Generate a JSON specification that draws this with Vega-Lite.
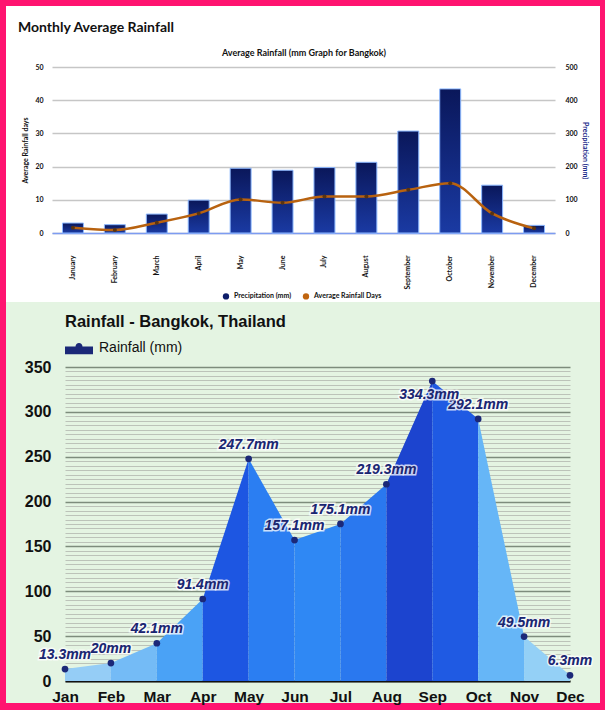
{
  "$schema": "https://vega.github.io/schema/vega-lite/v6.json",
  "background": "#ff1470",
  "padding": {"left": 6, "top": 6, "right": 5, "bottom": 7},
  "spacing": 0,
  "resolve": {"scale": {"color": "independent", "fill": "independent"}, "legend": {"color": "independent", "fill": "independent"}},
  "datasets": {
    "monthly": [
      {"month": "January", "precip": 30, "days": 1.6},
      {"month": "February", "precip": 25, "days": 0.9},
      {"month": "March", "precip": 57, "days": 3.1},
      {"month": "April", "precip": 99, "days": 5.9},
      {"month": "May", "precip": 195, "days": 10.1},
      {"month": "June", "precip": 189, "days": 9.1},
      {"month": "July", "precip": 197, "days": 11},
      {"month": "August", "precip": 213, "days": 11},
      {"month": "September", "precip": 307, "days": 13},
      {"month": "October", "precip": 434, "days": 15},
      {"month": "November", "precip": 144, "days": 5.9},
      {"month": "December", "precip": 23, "days": 1.4}
    ],
    "rain": [
      {"month": "Jan", "mm": 13.3, "label": "13.3mm"},
      {"month": "Feb", "mm": 20, "label": "20mm"},
      {"month": "Mar", "mm": 42.1, "label": "42.1mm"},
      {"month": "Apr", "mm": 91.4, "label": "91.4mm"},
      {"month": "May", "mm": 247.7, "label": "247.7mm"},
      {"month": "Jun", "mm": 157.1, "label": "157.1mm"},
      {"month": "Jul", "mm": 175.1, "label": "175.1mm"},
      {"month": "Aug", "mm": 219.3, "label": "219.3mm"},
      {"month": "Sep", "mm": 334.3, "label": "334.3mm"},
      {"month": "Oct", "mm": 292.1, "label": "292.1mm"},
      {"month": "Nov", "mm": 49.5, "label": "49.5mm"},
      {"month": "Dec", "mm": 6.3, "label": "6.3mm"}
    ],
    "segments": [
      {"seg": "Jan-Feb", "month": "Jan", "mm": 13.3},
      {"seg": "Jan-Feb", "month": "Feb", "mm": 20},
      {"seg": "Feb-Mar", "month": "Feb", "mm": 20},
      {"seg": "Feb-Mar", "month": "Mar", "mm": 42.1},
      {"seg": "Mar-Apr", "month": "Mar", "mm": 42.1},
      {"seg": "Mar-Apr", "month": "Apr", "mm": 91.4},
      {"seg": "Apr-May", "month": "Apr", "mm": 91.4},
      {"seg": "Apr-May", "month": "May", "mm": 247.7},
      {"seg": "May-Jun", "month": "May", "mm": 247.7},
      {"seg": "May-Jun", "month": "Jun", "mm": 157.1},
      {"seg": "Jun-Jul", "month": "Jun", "mm": 157.1},
      {"seg": "Jun-Jul", "month": "Jul", "mm": 175.1},
      {"seg": "Jul-Aug", "month": "Jul", "mm": 175.1},
      {"seg": "Jul-Aug", "month": "Aug", "mm": 219.3},
      {"seg": "Aug-Sep", "month": "Aug", "mm": 219.3},
      {"seg": "Aug-Sep", "month": "Sep", "mm": 334.3},
      {"seg": "Sep-Oct", "month": "Sep", "mm": 334.3},
      {"seg": "Sep-Oct", "month": "Oct", "mm": 292.1},
      {"seg": "Oct-Nov", "month": "Oct", "mm": 292.1},
      {"seg": "Oct-Nov", "month": "Nov", "mm": 49.5},
      {"seg": "Nov-Dec", "month": "Nov", "mm": 49.5},
      {"seg": "Nov-Dec", "month": "Dec", "mm": 6.3}
    ]
  },
  "vconcat": [
    {
      "width": 594,
      "height": 296,
      "view": {"fill": "#ffffff", "stroke": null},
      "data": {"name": "monthly"},
      "title": {"text": "Monthly Average Rainfall", "anchor": "start", "frame": "group", "font": "Lato", "fontSize": 14, "fontWeight": "bold", "color": "#111111", "offset": -29, "dx": 12},
      "encoding": {
        "x": {
          "field": "month", "type": "nominal", "sort": null,
          "scale": {"range": [46, 549], "paddingInner": 0.5, "paddingOuter": 0.25},
          "axis": {"orient": "bottom", "offset": -69, "labelAngle": 270, "labelPadding": 22, "labelFont": "Lato", "labelFontSize": 7, "labelFontWeight": "bold", "labelColor": "#111111", "ticks": false, "domainColor": "#7d9cf2", "domainWidth": 1.5, "grid": false, "title": "Average Rainfall (mm Graph for Bangkok)", "titleFont": "Lato", "titleFontSize": 9, "titleFontWeight": "bold", "titleColor": "#111111", "titleY": -181, "titleBaseline": "middle"}
        }
      },
      "layer": [
        {
          "mark": {"type": "bar", "fill": {"gradient": "linear", "x1": 0, "y1": 0, "x2": 0, "y2": 1, "stops": [{"offset": 0, "color": "#0a175a"}, {"offset": 1, "color": "#1a3aa3"}]}, "stroke": "#8cb8ff", "strokeWidth": 1},
          "encoding": {
            "y": {"field": "precip", "type": "quantitative", "scale": {"domain": [0, 500], "range": [227, 61]},
              "axis": {"orient": "right", "offset": -45, "values": [0, 100, 200, 300, 400, 500], "grid": false, "domain": false, "ticks": false, "labelPadding": 10, "labelFont": "Lato", "labelFontSize": 7, "labelFontWeight": "bold", "labelColor": "#111111", "title": "Precipitation (mm)", "titleFont": "Lato", "titleFontSize": 7, "titleFontWeight": "bold", "titleColor": "#1a2a8a", "titlePadding": 4}}
          }
        },
        {
          "layer": [
            {
              "mark": {"type": "line", "interpolate": "monotone", "color": "#b8620f", "strokeWidth": 2.5, "point": {"filled": true, "fill": "#5a3410", "size": 16}},
              "encoding": {
                "y": {"field": "days", "type": "quantitative", "scale": {"domain": [0, 50], "range": [227, 61]},
                  "axis": {"orient": "left", "offset": -46, "values": [0, 10, 20, 30, 40, 50], "grid": true, "gridColor": "#c6c6c6", "gridWidth": 1.5, "domain": false, "ticks": false, "labelPadding": 9, "labelFont": "Lato", "labelFontSize": 7, "labelFontWeight": "bold", "labelColor": "#111111", "title": "Average Rainfall days", "titleFont": "Lato", "titleFontSize": 7, "titleFontWeight": "bold", "titleColor": "#111111", "titlePadding": 6}}
              }
            },
            {
              "mark": {"type": "point", "filled": true, "opacity": 0},
              "encoding": {
                "color": {"datum": "Precipitation (mm)", "type": "nominal",
                  "scale": {"domain": ["Precipitation (mm)", "Average Rainfall Days"], "range": ["#0e1e6a", "#c0650f"]},
                  "legend": {"orient": "none", "legendX": 216, "legendY": 286, "direction": "horizontal", "title": null, "symbolType": "circle", "symbolOpacity": 1, "symbolSize": 40, "labelFont": "Lato", "labelFontSize": 7, "labelFontWeight": "bold", "labelColor": "#111111", "columnPadding": 10, "padding": 0}}
              }
            },
            {
              "mark": {"type": "point", "filled": true, "opacity": 0},
              "encoding": {"color": {"datum": "Average Rainfall Days", "type": "nominal"}}
            }
          ]
        }
      ],
      "resolve": {"scale": {"y": "independent"}}
    },
    {
      "width": 594,
      "height": 401,
      "view": {"fill": "#e4f4e2", "stroke": null},
      "title": {"text": "Rainfall - Bangkok, Thailand", "anchor": "start", "frame": "group", "font": "Liberation Sans", "fontSize": 16.5, "fontWeight": "bold", "color": "#111111", "offset": -28, "dx": 59},
      "encoding": {
        "x": {
          "field": "month", "type": "ordinal",
          "sort": ["Jan", "Feb", "Mar", "Apr", "May", "Jun", "Jul", "Aug", "Sep", "Oct", "Nov", "Dec"],
          "scale": {"type": "point", "padding": 0, "range": [59, 564]},
          "axis": {"orient": "bottom", "offset": -22, "labelAngle": 0, "labelPadding": 8, "labelFont": "Liberation Sans", "labelFontSize": 15.5, "labelFontWeight": "bold", "labelColor": "#111111", "ticks": false, "domainColor": "#111111", "domainWidth": 2, "grid": false, "title": null}
        }
      },
      "layer": [
        {
          "data": {"name": "segments"},
          "mark": {"type": "area", "interpolate": "linear"},
          "encoding": {
            "y": {"field": "mm", "type": "quantitative", "stack": null, "scale": {"domain": [0, 350], "range": [379, 65]},
              "axis": {"orient": "left", "offset": -59, "tickCount": 200, "values": [0, 5, 10, 15, 20, 25, 30, 35, 40, 45, 50, 55, 60, 65, 70, 75, 80, 85, 90, 95, 100, 105, 110, 115, 120, 125, 130, 135, 140, 145, 150, 155, 160, 165, 170, 175, 180, 185, 190, 195, 200, 205, 210, 215, 220, 225, 230, 235, 240, 245, 250, 255, 260, 265, 270, 275, 280, 285, 290, 295, 300, 305, 310, 315, 320, 325, 330, 335, 340, 345, 350],
                "labelExpr": "datum.value % 50 === 0 ? datum.label : ''", "labelOverlap": false,
                "grid": true,
                "gridColor": {"condition": {"test": "datum.value % 50 === 0", "value": "#7d8c7c"}, "value": "#bcc3b9"},
                "gridWidth": {"condition": {"test": "datum.value % 50 === 0", "value": 1.5}, "value": 1},
                "domain": false, "ticks": false, "labelPadding": 14, "labelFont": "Liberation Sans", "labelFontSize": 16, "labelFontWeight": "bold", "labelColor": "#111111", "title": null}},
            "fill": {"field": "seg", "type": "nominal",
              "scale": {"domain": ["Jan-Feb", "Feb-Mar", "Mar-Apr", "Apr-May", "May-Jun", "Jun-Jul", "Jul-Aug", "Aug-Sep", "Sep-Oct", "Oct-Nov", "Nov-Dec"],
                "range": ["#95cdf6", "#74bbf6", "#4aa2f6", "#1d56e2", "#2b7ef2", "#2f88f4", "#2a78ef", "#1c44cf", "#1f5ae3", "#66b6f7", "#94d0f6"]},
              "legend": null}
          }
        },
        {
          "data": {"name": "rain"},
          "mark": {"type": "point", "filled": true, "size": 45, "opacity": 1},
          "encoding": {
            "y": {"field": "mm", "type": "quantitative"},
            "color": {"datum": "Rainfall (mm)", "type": "nominal", "scale": {"domain": ["Rainfall (mm)"], "range": ["#1b2878"]},
              "legend": {"orient": "none", "legendX": 59, "legendY": 32, "title": null, "symbolType": "M-1,-0.1L1,-0.1L1,0.45L-1,0.45Z M-0.25,-0.1A0.25,0.25 0 1,1 0.25,-0.1Z", "symbolSize": 784, "symbolOpacity": 1, "symbolStrokeWidth": 0, "labelFont": "Liberation Sans", "labelFontSize": 14, "labelColor": "#111111", "labelOffset": 6, "padding": 0}}
          }
        },
        {
          "data": {"name": "rain"},
          "transform": [{"filter": "datum.month !== 'Sep'"}],
          "mark": {"type": "text", "font": "Liberation Sans", "fontStyle": "italic", "fontWeight": "bold", "fontSize": 14, "baseline": "middle", "align": "center", "dy": -14, "fill": "#1a2672", "stroke": "#ffffff", "strokeWidth": 3, "strokeOpacity": 0.75},
          "encoding": {"y": {"field": "mm", "type": "quantitative"}, "text": {"field": "label"}}
        },
        {
          "data": {"name": "rain"},
          "transform": [{"filter": "datum.month !== 'Sep'"}],
          "mark": {"type": "text", "font": "Liberation Sans", "fontStyle": "italic", "fontWeight": "bold", "fontSize": 14, "baseline": "middle", "align": "center", "dy": -14, "fill": "#1a2672"},
          "encoding": {"y": {"field": "mm", "type": "quantitative"}, "text": {"field": "label"}}
        },
        {
          "data": {"name": "rain"},
          "transform": [{"filter": "datum.month === 'Sep'"}],
          "mark": {"type": "text", "font": "Liberation Sans", "fontStyle": "italic", "fontWeight": "bold", "fontSize": 14, "baseline": "middle", "align": "center", "dy": 14, "dx": -3, "fill": "#1a2672", "stroke": "#ffffff", "strokeWidth": 3, "strokeOpacity": 0.75},
          "encoding": {"y": {"field": "mm", "type": "quantitative"}, "text": {"field": "label"}}
        },
        {
          "data": {"name": "rain"},
          "transform": [{"filter": "datum.month === 'Sep'"}],
          "mark": {"type": "text", "font": "Liberation Sans", "fontStyle": "italic", "fontWeight": "bold", "fontSize": 14, "baseline": "middle", "align": "center", "dy": 14, "dx": -3, "fill": "#1a2672"},
          "encoding": {"y": {"field": "mm", "type": "quantitative"}, "text": {"field": "label"}}
        }
      ]
    }
  ]
}
